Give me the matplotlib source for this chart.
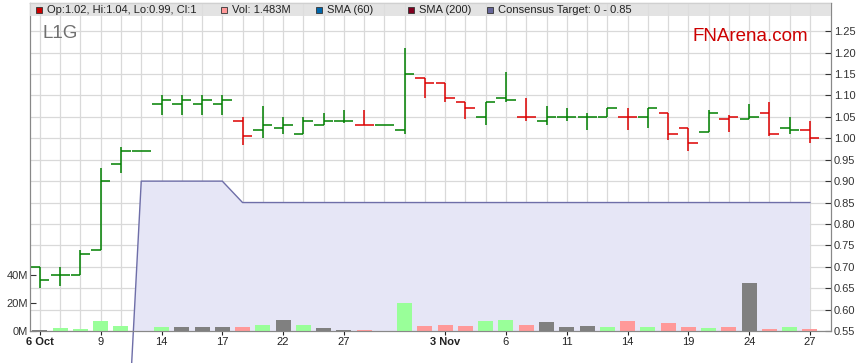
import numpy as np
import matplotlib.pyplot as plt

plt.rcParams['font.family'] = ['Liberation Sans', 'DejaVu Sans']

# daily OHLC (trading days 6 Oct .. 27 Nov)
opens = [0.70, 0.68, 0.68, 0.74, 0.94, 0.97, 1.08, 1.08, 1.08, 1.08,
         1.04, 1.02, 1.025, 1.01, 1.03, 1.04, 1.03, 1.03, 1.02, 1.14,
         1.13, 1.085, 1.05, 1.095, 1.05, 1.04, 1.05, 1.05, 1.05, 1.05,
         1.05, 1.06, 1.025, 1.015, 1.045, 1.045, 1.06, 1.025, 1.02]
highs = [0.70, 0.70, 0.74, 0.93, 0.98, 0.97, 1.10, 1.10, 1.10, 1.10,
         1.05, 1.075, 1.05, 1.05, 1.06, 1.065, 1.065, 1.03, 1.21, 1.14,
         1.13, 1.085, 1.085, 1.155, 1.095, 1.075, 1.07, 1.06, 1.07, 1.07,
         1.07, 1.06, 1.025, 1.065, 1.055, 1.08, 1.085, 1.05, 1.04]
lows = [0.65, 0.655, 0.68, 0.74, 0.92, 0.97, 1.055, 1.055, 1.055, 1.055,
        0.985, 1.00, 1.01, 1.01, 1.03, 1.035, 1.03, 1.03, 1.01, 1.095,
        1.085, 1.045, 1.03, 1.085, 1.04, 1.03, 1.04, 1.02, 1.05, 1.02,
        1.025, 0.995, 0.97, 1.015, 1.015, 1.045, 1.005, 1.01, 0.99]
closes = [0.67, 0.68, 0.73, 0.90, 0.97, 0.97, 1.09, 1.09, 1.09, 1.09,
          1.005, 1.03, 1.03, 1.04, 1.04, 1.04, 1.03, 1.03, 1.15, 1.13,
          1.095, 1.07, 1.085, 1.09, 1.05, 1.05, 1.05, 1.05, 1.07, 1.05,
          1.07, 1.01, 0.99, 1.06, 1.05, 1.05, 1.01, 1.02, 1.00]
volumes_m = [0.8, 1.8, 1.3, 6.8, 3.9, 0, 2.5, 2.5, 2.5, 2.5,
             2.5, 4.6, 7.5, 4.6, 1.8, 0.6, 0.5, 0, 20.3, 3.9,
             4.6, 3.9, 6.8, 7.5, 4.6, 6.1, 3.2, 3.9, 3.2, 6.8,
             3.2, 5.4, 3.2, 1.8, 2.5, 33.9, 1.1, 2.5, 1.5]
consensus = [0, 0, 0, 0, 0, 0.90, 0.90, 0.90, 0.90, 0.90,
             0.85, 0.85, 0.85, 0.85, 0.85, 0.85, 0.85, 0.85, 0.85, 0.85,
             0.85, 0.85, 0.85, 0.85, 0.85, 0.85, 0.85, 0.85, 0.85, 0.85,
             0.85, 0.85, 0.85, 0.85, 0.85, 0.85, 0.85, 0.85, 0.85]

tick_idx = [0, 3, 6, 9, 12, 15, 20, 23, 26, 29, 32, 35, 38]
tick_labels = ['6 Oct', '9', '14', '17', '22', '27', '3 Nov', '6', '11', '14', '19', '24', '27']
bold_labels = ['6 Oct', '3 Nov']

x = np.arange(len(closes))
o = np.array(opens); h = np.array(highs); l = np.array(lows); c = np.array(closes)
prev = np.r_[c[0], c[:-1]]
bar_col = np.where(c < prev, '#dd0000', '#008000')
vol_col = np.where(c > prev, '#99ff99', np.where(c < prev, '#ff9999', '#808080'))

fig = plt.figure(figsize=(8.59, 3.63), dpi=100)
ax = fig.add_axes([30/859, 32/363, 801/859, 328/363])
axv = ax.twinx()

# price axis on the right
ax.yaxis.tick_right()
ax.yaxis.set_label_position('right')
ax.set_xlim(-0.49, 39.04)
ax.set_ylim(0.55, 1.316)
ax.set_yticks(np.arange(0.55, 1.30, 0.05))
ax.yaxis.set_major_formatter(plt.FormatStrFormatter('%.2f'))
ax.set_xticks(x, minor=True)
ax.set_xticks(tick_idx)
ax.set_xticklabels(tick_labels)
for t in ax.get_xticklabels():
    if t.get_text() in bold_labels:
        t.set_fontweight('bold')
ax.set_axisbelow(True)
ax.grid(True, which='both', axis='x', color='#d9d9d9', lw=0.9)
ax.grid(True, axis='y', color='#d9d9d9', lw=0.9)
ax.tick_params(axis='y', direction='in', length=4, labelsize=8, pad=2, colors='#333333',
               left=False, labelleft=False, right=True, labelright=True)
ax.tick_params(axis='x', which='major', direction='out', length=3, labelsize=8, pad=1.5, colors='#222222')
ax.tick_params(axis='x', which='minor', length=0)
for s in ax.spines.values():
    s.set_color('#888888')

# consensus target
ax.fill_between(x, 0, consensus, color='#e6e6f6', lw=0, zorder=1)
ax.plot(x, consensus, color='#6e6ea8', lw=1, zorder=2, clip_on=False)

# OHLC bars
ax.vlines(x, l, h, colors=bar_col, lw=1.1, zorder=3)
ax.hlines(o, x - 0.47, x, colors=bar_col, lw=1.1, zorder=3)
ax.hlines(c, x, x + 0.47, colors=bar_col, lw=1.1, zorder=3)

# volume on left axis
axv.yaxis.tick_left()
axv.yaxis.set_label_position('left')
axv.set_ylim(0, 234)
axv.set_yticks([0, 20, 40])
axv.set_yticklabels(['0M', '20M', '40M'])
axv.tick_params(axis='y', direction='in', length=4, labelsize=8, pad=1.5, colors='#333333',
                left=True, labelleft=True, right=False, labelright=False)
for s in axv.spines.values():
    s.set_color('#888888')
axv.bar(x, volumes_m, width=0.74, color=vol_col, zorder=2)

# header strip
axv.add_patch(plt.Rectangle((0, 0.960), 1, 0.040, transform=axv.transAxes,
                            color='#dedede', alpha=0.85, lw=0, zorder=5))
items = [(39, 47, '#cc0000', 'Op:1.02, Hi:1.04, Lo:0.99, Cl:1'),
         (223.5, 232, '#ff9999', 'Vol: 1.483M'),
         (318.5, 327, '#0066aa', 'SMA (60)'),
         (411, 419, '#800020', 'SMA (200)'),
         (490, 498, '#666699', 'Consensus Target: 0 - 0.85')]
for sq, tx, col, lab in items:
    axv.plot([(sq - 30) / 801], [0.980], marker='s', ms=4.6, mfc=col, mec='#333333',
             mew=0.6, transform=axv.transAxes, zorder=6, clip_on=False)
    axv.text((tx - 30) / 801, 0.979, lab, transform=axv.transAxes, fontsize=8,
             va='center', ha='left', color='#222222', zorder=6)

axv.text((42 - 30) / 801, (331 - 38) / 328, 'L1G', transform=axv.transAxes,
         fontsize=13.5, color='#707070', va='baseline', ha='left', zorder=6)
axv.text((808 - 30) / 801, (331 - 41) / 328, 'FNArena.com', transform=axv.transAxes,
         fontsize=13.5, color='#cc0000', va='baseline', ha='right', zorder=6)

fig.savefig('out.png', dpi=100)
